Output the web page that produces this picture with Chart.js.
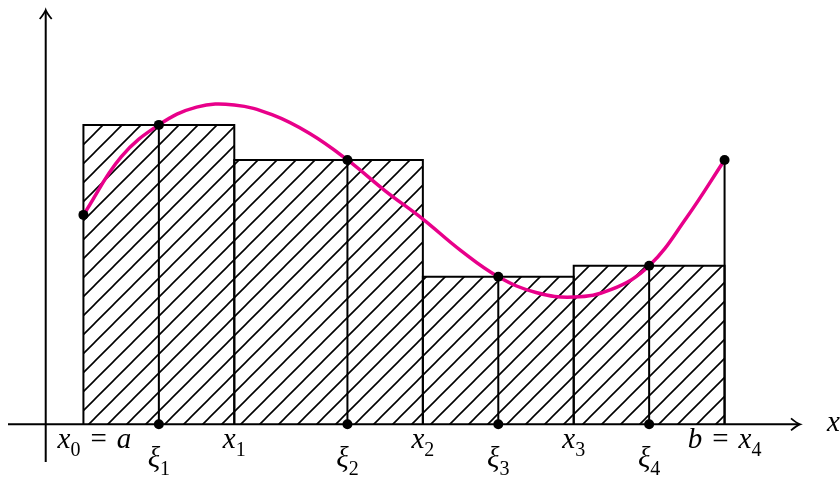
<!DOCTYPE html>
<html>
<head>
<meta charset="utf-8">
<script src="https://cdn.jsdelivr.net/npm/chart.js@4.4.0/dist/chart.umd.min.js"></script>
<style>
  html, body { margin: 0; padding: 0; background: #fff; }
  #wrap { width: 840px; height: 477px; }
</style>
</head>
<body>
<div id="wrap"><canvas id="chart" width="840" height="477"></canvas></div>
<script>
// partition points x0..x4 and the sample points xi1..xi4
const partition = [1, 5, 10, 14, 18];
const tags = [3, 8, 12, 16];
const tagValues = [7.95, 7.02, 3.92, 4.21];
const endValues = [5.56, 7.02]; // f(a), f(b)

// the pink curve
const curveX = [1, 2, 3, 4, 5, 6, 7, 8, 9, 10, 11, 12, 13, 14, 15, 16, 17, 18];
const curveY = [5.56, 7.1, 7.95, 8.42, 8.48, 8.22, 7.72, 7.02, 6.2, 5.45, 4.62, 3.92, 3.5, 3.38, 3.58, 4.21, 5.5, 7.02];

// labels under the axis: [main, sub, "=", main, sub]
const partLabels = [["x", "0", "=", "a"], ["x", "1"], ["x", "2"], ["x", "3"], ["b", null, "=", "x", "4"]];
const tagLabels = [["ξ", "1"], ["ξ", "2"], ["ξ", "3"], ["ξ", "4"]];

const pink = "#e8008a";

// hatch pattern like tikz north east lines
function makeHatch() {
	const s = 19;
	const c = document.createElement("canvas");
	c.width = s; c.height = s;
	const g = c.getContext("2d");
	g.strokeStyle = "#000";
	g.lineWidth = 1.6;
	g.beginPath();
	g.moveTo(-2, s + 2); g.lineTo(s + 2, -2);
	g.moveTo(-2, 2); g.lineTo(2, -2);
	g.moveTo(s - 2, s + 2); g.lineTo(s + 2, s - 2);
	g.stroke();
	return document.getElementById("chart").getContext("2d").createPattern(c, "repeat");
}
const hatch = makeHatch();

const datasets = [];

// rectangles
for (let i = 0; i < tags.length; i++) {
	datasets.push({
		data: [
			{ x: partition[i], y: 0 },
			{ x: partition[i], y: tagValues[i] },
			{ x: partition[i + 1], y: tagValues[i] },
			{ x: partition[i + 1], y: 0 },
		],
		fill: "origin",
		backgroundColor: hatch,
		borderColor: "#000",
		borderWidth: 2,
		pointRadius: 0,
		tension: 0,
		order: 5,
	});
}

// vertical lines at the tags and at b
const vlines = [];
tags.forEach((t, i) => {
	vlines.push({ x: t, y: 0 }, { x: t, y: tagValues[i] }, { x: t, y: null });
});
vlines.push({ x: partition[4], y: 0 }, { x: partition[4], y: endValues[1] });
datasets.push({
	data: vlines,
	borderColor: "#000",
	borderWidth: 2,
	pointRadius: 0,
	spanGaps: false,
	fill: false,
	order: 4,
});

// curve
datasets.push({
	data: curveX.map((x, i) => ({ x, y: curveY[i] })),
	borderColor: pink,
	borderWidth: 3.5,
	pointRadius: 0,
	tension: 0.4,
	fill: false,
	order: 2,
});

// dots
const dots = [{ x: partition[0], y: endValues[0] }, { x: partition[4], y: endValues[1] }];
tags.forEach((t, i) => {
	dots.push({ x: t, y: tagValues[i] }, { x: t, y: 0 });
});
datasets.push({
	data: dots,
	showLine: false,
	pointRadius: 5,
	pointBackgroundColor: "#000",
	pointBorderWidth: 0,
	order: 1,
});

function arrowHead(ctx, x, y, dir) {
	ctx.save();
	ctx.translate(x, y);
	if (dir === "up") ctx.rotate(-Math.PI / 2);
	ctx.beginPath();
	ctx.moveTo(-9, -6);
	ctx.quadraticCurveTo(-3, -1, 0, 0);
	ctx.quadraticCurveTo(-3, 1, -9, 6);
	ctx.lineWidth = 1.8;
	ctx.stroke();
	ctx.restore();
}

function drawMath(ctx, parts, cx, base) {
	const big = 29, small = 20;
	const fam = '"Liberation Serif", serif';
	const pieces = [];
	parts.forEach((p, i) => {
		if (p === null) return;
		if (i === 1 || i === 4) pieces.push({ t: p, font: small + "px " + fam, dy: 8, pad: 0 });
		else if (p === "=") pieces.push({ t: p, font: big + "px " + fam, dy: 0, pad: 10 });
		else pieces.push({ t: p, font: "italic " + big + "px " + fam, dy: 0, pad: 0 });
	});
	let w = 0;
	pieces.forEach(p => { ctx.font = p.font; p.w = ctx.measureText(p.t).width; w += p.w + 2 * p.pad; });
	let x = cx - w / 2;
	ctx.textAlign = "left";
	ctx.textBaseline = "alphabetic";
	pieces.forEach(p => {
		ctx.font = p.font;
		ctx.fillText(p.t, x + p.pad, base + p.dy);
		x += p.w + 2 * p.pad;
	});
}

const axesPlugin = {
	id: "axes",
	beforeDatasetsDraw(chart) {
		const { ctx, chartArea: a, scales: { x, y } } = chart;
		const x0 = x.getPixelForValue(0), y0 = y.getPixelForValue(0);
		ctx.save();
		ctx.strokeStyle = "#000";
		ctx.lineWidth = 2;
		ctx.beginPath();
		ctx.moveTo(a.left, y0); ctx.lineTo(a.right - 1, y0);
		ctx.moveTo(x0, a.bottom); ctx.lineTo(x0, a.top + 1);
		ctx.stroke();
		arrowHead(ctx, a.right, y0, "right");
		arrowHead(ctx, x0, a.top, "up");
		ctx.restore();
	},
	afterDraw(chart) {
		const { ctx, scales: { x, y } } = chart;
		const y0 = y.getPixelForValue(0);
		ctx.save();
		ctx.fillStyle = "#000";
		partLabels.forEach((lab, i) => {
			const dx = i === 0 ? 11 : 0;
			drawMath(ctx, lab, x.getPixelForValue(partition[i]) + dx, y0 + 24);
		});
		tagLabels.forEach((lab, i) => {
			drawMath(ctx, lab, x.getPixelForValue(tags[i]), y0 + 43);
		});
		ctx.font = 'italic 29px "Liberation Serif", serif';
		ctx.textAlign = "left";
		ctx.textBaseline = "alphabetic";
		ctx.fillText("x", 827, y0 + 7);
		ctx.restore();
	},
};

new Chart(document.getElementById("chart"), {
	type: "line",
	data: { datasets },
	options: {
		responsive: false,
		animation: false,
		layout: { padding: { left: 8, right: 40, top: 10, bottom: 15 } },
		plugins: { legend: { display: false }, tooltip: { enabled: false } },
		scales: {
			x: { type: "linear", min: -1, max: 20, display: false },
			y: { type: "linear", min: -1, max: 11, display: false },
		},
	},
	plugins: [axesPlugin],
});
</script>
</body>
</html>
